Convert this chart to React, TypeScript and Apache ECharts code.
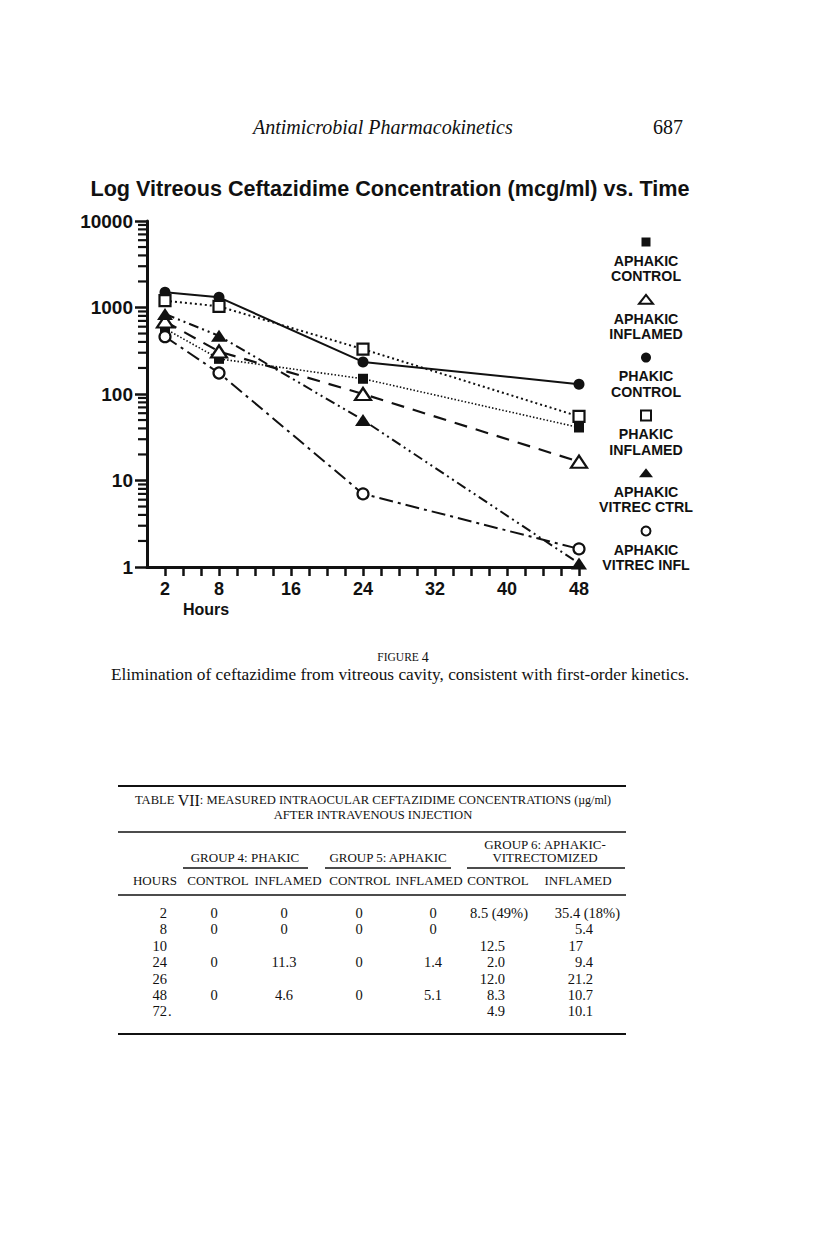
import React, { useEffect, useRef } from "react";
import * as echarts from "echarts";

// ---------------- DATA ----------------
const hours = [2, 8, 24, 48];
const aphakicControl = [570, 255, 150, 41];
const aphakicInflamed = [690, 310, 100, 16.5];
const phakicControl = [1500, 1310, 235, 130];
const phakicInflamed = [1200, 1030, 330, 55];
const aphakicVitrecCtrl = [840, 470, 50, 1.1];
const aphakicVitrecInfl = [460, 175, 7.0, 1.62];

const seriesLabels = [
  "APHAKIC\nCONTROL",
  "APHAKIC\nINFLAMED",
  "PHAKIC\nCONTROL",
  "PHAKIC\nINFLAMED",
  "APHAKIC\nVITREC CTRL",
  "APHAKIC\nVITREC INFL",
];

const xTickValues = [2, 4, 6, 8, 10, 12, 14, 16, 18, 20, 22, 24, 26, 28, 30, 32, 34, 36, 38, 40, 42, 44, 46, 48];
const xLabelValues = [2, 8, 16, 24, 32, 40, 48];
const yMinorTicks = [
  2, 3, 4, 5, 6, 7, 8, 9,
  20, 30, 40, 50, 60, 70, 80, 90,
  200, 300, 400, 500, 600, 700, 800, 900,
  2000, 3000, 4000, 5000, 6000, 7000, 8000, 9000,
];

// Table VII
const tableHours = ["2", "8", "10", "24", "26", "48", "72."];
const g4Control = ["0", "0", "", "0", "", "0", ""];
const g4Inflamed = ["0", "0", "", "11.3", "", "4.6", ""];
const g5Control = ["0", "0", "", "0", "", "0", ""];
const g5Inflamed = ["0", "0", "", "1.4", "", "5.1", ""];
const g6Control = ["8.5 (49%)", "", "12.5", "2.0", "12.0", "8.3", "4.9"];
const g6Inflamed = ["35.4 (18%)", "5.4", "17", "9.4", "21.2", "10.7", "10.1"];
const columnHeaders = ["HOURS", "CONTROL", "INFLAMED", "CONTROL", "INFLAMED", "CONTROL", "INFLAMED"];

const SANS = "'Liberation Sans', Arial, Helvetica, sans-serif";
const SERIF = "'Liberation Serif', 'Times New Roman', serif";
const INK = "#111111";

function txt(x: number, y: number, text: string, o: any = {}) {
  const align = o.align || "left";
  const valign = o.valign || "middle";
  const style: any = {
    text,
    fill: o.fill || INK,
    fontSize: o.fontSize || 13,
    fontFamily: o.fontFamily || SERIF,
    fontWeight: o.fontWeight || "normal",
    fontStyle: o.fontStyle || "normal",
    align,
    verticalAlign: valign,
    textAlign: align,
    textVerticalAlign: valign,
  };
  if (o.lineHeight) style.lineHeight = o.lineHeight;
  if (o.rich) style.rich = o.rich;
  return { type: "text", x, y, silent: true, style };
}

function hline(x1: number, x2: number, y: number, w: number) {
  return {
    type: "line",
    silent: true,
    shape: { x1, y1: y, x2, y2: y },
    style: { stroke: INK, lineWidth: w },
  };
}

export default function App() {
  const ref = useRef<HTMLDivElement>(null);

  useEffect(() => {
    if (!ref.current) return;
    const chart = echarts.init(ref.current, null, { renderer: "svg" });

    const pts = (vals: number[]) => hours.map((h, i) => [h, vals[i]]);

    const seriesDefs = [
      { data: aphakicControl, symbol: "rect", size: 10, fill: INK, line: { width: 1.6, type: [1.5, 2] } },
      { data: aphakicInflamed, symbol: "triangle", size: [16, 12], fill: "#fff", line: { width: 2.2, type: [13, 9] } },
      { data: phakicControl, symbol: "circle", size: 11, fill: INK, line: { width: 2, type: "solid" } },
      { data: phakicInflamed, symbol: "rect", size: 11, fill: "#fff", line: { width: 2, type: [2, 3] } },
      { data: aphakicVitrecCtrl, symbol: "triangle", size: [16, 12], fill: INK, line: { width: 2, type: [10, 4, 2, 4, 2, 4] } },
      { data: aphakicVitrecInfl, symbol: "circle", size: 11, fill: "#fff", line: { width: 2, type: [14, 5, 3, 5] } },
    ];

    const lineSeries = seriesDefs.map((s, i) => ({
      type: "line",
      name: seriesLabels[i].replace("\n", " "),
      data: pts(s.data),
      symbol: s.symbol,
      symbolSize: s.size,
      showAllSymbol: true,
      itemStyle: { color: s.fill, borderColor: INK, borderWidth: s.fill === INK ? 0 : 2.2 },
      lineStyle: { color: INK, width: s.line.width, type: s.line.type as any },
      z: 3,
    }));

    const minorTickSeries = {
      type: "custom",
      name: "minorTicks",
      data: yMinorTicks.map((v) => [0, v]),
      clip: false,
      silent: true,
      z: 2,
      renderItem: (_p: any, api: any) => {
        const p = api.coord([0, api.value(1)]);
        return {
          type: "line",
          shape: { x1: p[0] - 9, y1: p[1], x2: p[0], y2: p[1] },
          style: { stroke: INK, lineWidth: 2.2 },
        };
      },
    };

    // ---------- graphics: page text, legend, table ----------
    const g: any[] = [];
    g.push(txt(253, 127, "Antimicrobial Pharmacokinetics", { fontSize: 20, fontStyle: "italic" }));
    g.push(txt(683, 127, "687", { fontSize: 20, align: "right" }));
    g.push(txt(390, 188, "Log Vitreous Ceftazidime Concentration (mcg/ml) vs. Time", { fontSize: 21.6, fontFamily: SANS, fontWeight: "bold", align: "center" }));
    g.push(txt(206, 609, "Hours", { fontSize: 16, fontFamily: SANS, fontWeight: "bold", align: "center" }));

    // legend
    const legX = 646;
    const legY0 = 242;
    const legStep = 57.8;
    seriesDefs.forEach((s, i) => {
      const y = legY0 + i * legStep;
      if (s.symbol === "rect") {
        const w = i === 0 ? 9 : 10;
        g.push({ type: "rect", silent: true, shape: { x: legX - w / 2, y: y - w / 2, width: w, height: w }, style: { fill: s.fill, stroke: INK, lineWidth: s.fill === INK ? 0 : 2 } });
      } else if (s.symbol === "triangle") {
        g.push({ type: "polygon", silent: true, shape: { points: [[legX, y - 5], [legX + 7, y + 4], [legX - 7, y + 4]] }, style: { fill: s.fill, stroke: INK, lineWidth: s.fill === INK ? 0 : 2 } });
      } else {
        g.push({ type: "circle", silent: true, shape: { cx: legX, cy: y, r: s.fill === INK ? 5 : 4.5 }, style: { fill: s.fill, stroke: INK, lineWidth: s.fill === INK ? 0 : 2 } });
      }
      g.push(txt(legX, y + 11, seriesLabels[i], { fontSize: 14.2, fontFamily: SANS, fontWeight: "bold", align: "center", valign: "top", lineHeight: 15.5 }));
    });

    // caption
    g.push(txt(403, 657, "{a|FIGURE }{b|4}", { align: "center", rich: { a: { fontSize: 11.5, fontFamily: SERIF, fill: INK }, b: { fontSize: 14, fontFamily: SERIF, fill: INK } } }));
    g.push(txt(400, 674, "Elimination of ceftazidime from vitreous cavity, consistent with first-order kinetics.", { fontSize: 17.3, align: "center" }));

    // table
    const tL = 118, tR = 626;
    const HF = 13;
    const DF = 14.5;
    g.push(hline(tL, tR, 786, 2));
    g.push(txt(373, 800, "{a|TABLE }{b|VII}{a|: MEASURED INTRAOCULAR CEFTAZIDIME CONCENTRATIONS }{c|(µg/ml)}", {
      align: "center",
      rich: {
        a: { fontSize: 12.6, fontFamily: SERIF, fill: INK },
        b: { fontSize: 16, fontFamily: SERIF, fill: INK },
        c: { fontSize: 12, fontFamily: SERIF, fill: INK },
      },
    }));
    g.push(txt(373, 815, "AFTER INTRAVENOUS INJECTION", { fontSize: 12.6, align: "center" }));
    g.push(hline(tL, tR, 832, 1.3));
    g.push(txt(545, 844, "GROUP 6: APHAKIC-", { fontSize: HF, align: "center" }));
    g.push(txt(545, 857, "VITRECTOMIZED", { fontSize: HF, align: "center" }));
    g.push(txt(245, 857, "GROUP 4: PHAKIC", { fontSize: HF, align: "center" }));
    g.push(txt(388, 857, "GROUP 5: APHAKIC", { fontSize: HF, align: "center" }));
    g.push(hline(183, 308, 868, 1.3));
    g.push(hline(325, 451, 868, 1.3));
    g.push(hline(467, 625, 868, 1.3));
    const headerCenters = [155, 218, 288, 360, 429, 498, 578];
    columnHeaders.forEach((h, i) => g.push(txt(headerCenters[i], 880, h, { fontSize: HF, align: "center" })));
    g.push(hline(tL, tR, 895, 1.3));

    const rowY0 = 913, rowStep = 16.4;
    tableHours.forEach((h, r) => {
      const y = rowY0 + r * rowStep;
      if (h.endsWith(".")) {
        g.push(txt(167, y, h.slice(0, -1), { fontSize: DF, align: "right" }));
        g.push(txt(168, y, ".", { fontSize: DF, align: "left" }));
      } else {
        g.push(txt(167, y, h, { fontSize: DF, align: "right" }));
      }
      const centered = [
        [g4Control, 214],
        [g4Inflamed, 284],
        [g5Control, 359],
        [g5Inflamed, 433],
      ] as [string[], number][];
      centered.forEach(([col, x]) => {
        if (col[r]) g.push(txt(x, y, col[r], { fontSize: DF, align: "center" }));
      });
      const c5 = g6Control[r];
      if (c5) {
        if (c5.includes("(")) g.push(txt(470, y, c5, { fontSize: DF, align: "left" }));
        else g.push(txt(505, y, c5, { fontSize: DF, align: "right" }));
      }
      const c6 = g6Inflamed[r];
      if (c6) {
        if (c6.includes("(")) g.push(txt(620, y, c6, { fontSize: DF, align: "right" }));
        else if (!c6.includes(".")) g.push(txt(583, y, c6, { fontSize: DF, align: "right" }));
        else g.push(txt(593, y, c6, { fontSize: DF, align: "right" }));
      }
    });
    g.push(hline(tL, tR, 1034, 2));

    chart.setOption({
      animation: false,
      backgroundColor: "#fff",
      grid: { left: 147, top: 221, width: 432, height: 346 },
      xAxis: {
        type: "value",
        min: 0,
        max: 48,
        interval: 2,
        axisLine: { onZero: false, lineStyle: { color: INK, width: 3 } },
        axisTick: { show: true, length: 9, customValues: xTickValues, lineStyle: { color: INK, width: 2.5 } },
        axisLabel: { customValues: xLabelValues, margin: 13, fontSize: 18, fontWeight: "bold", fontFamily: SANS, color: INK },
        splitLine: { show: false },
      },
      yAxis: {
        type: "log",
        logBase: 10,
        min: 1,
        max: 10000,
        axisLine: { show: true, onZero: false, lineStyle: { color: INK, width: 3 } },
        axisTick: { show: true, length: 12, lineStyle: { color: INK, width: 2.5 } },
        axisLabel: {
          margin: 14,
          fontSize: 19,
          fontWeight: "bold",
          fontFamily: SANS,
          color: INK,
          formatter: (v: number) => String(Math.round(v)),
        },
        splitLine: { show: false },
      },
      series: [minorTickSeries, ...lineSeries],
      graphic: g,
    } as any);

    return () => chart.dispose();
  }, []);

  return <div ref={ref} style={{ position: "absolute", left: 0, top: 0, width: 816, height: 1246 }} />;
}
